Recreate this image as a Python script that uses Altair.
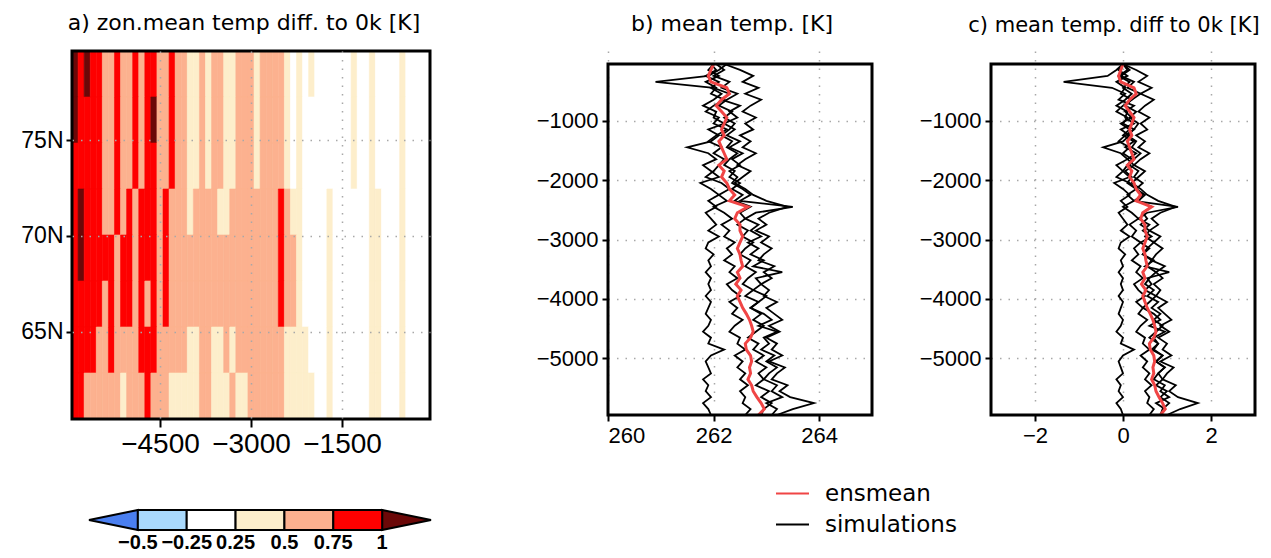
import altair as alt
import pandas as pd

# ---------------- panel a : zonal-mean temperature difference (levels) ----------------
LEVELS = [0, 1, 2, 3, 4, 5, 6]
LEVEL_COLORS = ["#4a7ff0", "#a9d9fc", "#ffffff", "#fdeecb", "#fcb18f", "#fe0000", "#6b0808"]
CB_LABELS = ["\u22120.5", "\u22120.25", "0.25", "0.5", "0.75", "1"]

A_TIME_START = -5950          # left edge of first 100-year bin
A_TIME_STEP = 100
A_LAT_EDGES = [79.65, 77.25, 74.85, 72.45, 70.05, 67.65, 65.25, 62.85, 60.45]   # top -> bottom
# one string per latitude band (top -> bottom), one character (level index) per 100-year bin
A_ROWS = [
    "6565544544" "5455445443" "3434433444" "3444432323" "2222223223" "222232222",
    "6555544544" "5456445443" "3434433444" "3444432322" "2222223223" "222232222",
    "5555544544" "5455445443" "3434433444" "3444432322" "2222223223" "222232222",
    "5655544545" "4555454443" "4444334444" "4444543322" "2232222223" "322232222",
    "5655555455" "4555454444" "4444444444" "4444544322" "2232222223" "322232222",
    "5555545455" "4545454444" "4444444444" "4444544322" "2232222223" "322232222",
    "5555445444" "4555444443" "3443343444" "4444433332" "2232222223" "322232222",
    "5544444434" "4454443333" "3443334334" "4444433333" "2232222223" "322232222",
]

# ---------------- panels b / c : time series ----------------
TIMES = list(range(-50, -6000, -100))
SIM_NAMES = ["sim1", "sim2", "sim3", "sim4", "sim5"]
SIM1 = [261.95, 262.05, 261.85, 262.1, 261.95, 262.15, 262.0, 261.8, 262.05, 262.0,
        262.2, 261.9, 262.1, 261.95, 261.5, 261.9, 262.05, 261.8, 261.95, 262.1,
        261.75, 261.95, 262.1, 261.9, 262.05, 261.85, 261.95, 262.05, 261.9, 262.1,
        261.9, 261.85, 262.0, 261.9, 261.95, 261.85, 261.95, 261.9, 261.95, 261.85,
        261.95, 261.9, 261.85, 261.95, 261.9, 261.8, 261.95, 261.9, 262.2, 261.95,
        261.85, 261.9, 261.95, 261.8, 261.9, 261.85, 261.95, 261.8, 261.9, 261.95]
SIM2 = [262.0, 261.9, 262.1, 261.85, 262.05, 261.95, 262.2, 262.0, 261.85, 262.1,
        262.0, 262.25, 262.05, 261.9, 262.15, 262.0, 262.2, 262.1, 262.0, 261.85,
        262.15, 262.3, 262.1, 262.25, 262.0, 262.2, 262.35, 262.15, 262.3, 262.2,
        262.4, 262.25, 262.35, 262.2, 262.4, 262.3, 262.45, 262.25, 262.35, 262.5,
        262.3, 262.45, 262.35, 262.55, 262.4, 262.3, 262.5, 262.45, 262.6, 262.4,
        262.55, 262.45, 262.6, 262.5, 262.65, 262.5, 262.6, 262.55, 262.7, 262.6]
SIM3 = [262.05, 262.2, 262.0, 262.3, 262.15, 262.45, 262.25, 262.1, 262.35, 262.2,
        262.4, 262.3, 262.15, 262.35, 262.25, 262.45, 262.3, 262.2, 262.4, 262.3,
        262.5, 262.35, 262.55, 262.4, 262.7, 262.5, 262.6, 262.45, 262.65, 262.55,
        262.75, 262.6, 262.5, 262.7, 262.6, 262.8, 262.65, 262.55, 262.75, 262.6,
        262.85, 262.7, 262.9, 262.75, 262.95, 262.8, 262.65, 262.85, 262.75, 262.95,
        262.8, 263.0, 262.85, 262.95, 262.8, 263.05, 262.9, 263.1, 262.95, 262.9]
SIM4 = [262.25, 262.1, 261.9, 260.9, 262.0, 262.3, 262.15, 262.5, 262.3, 262.45,
        262.2, 262.4, 262.25, 262.5, 262.3, 262.55, 262.35, 262.5, 262.3, 262.45,
        262.35, 262.55, 262.7, 262.5, 263.5, 262.8, 262.6, 262.85, 262.7, 262.9,
        262.65, 262.85, 262.7, 262.95, 262.75, 263.3, 262.8, 262.9, 262.75, 263.0,
        262.85, 262.7, 262.95, 263.1, 262.85, 263.2, 262.95, 263.05, 262.9, 263.15,
        263.0, 263.2, 263.05, 262.95, 263.2, 263.1, 263.3, 263.0, 263.2, 263.1]
SIM5 = [262.2, 262.5, 262.75, 262.55, 262.85, 262.6, 262.9, 262.7, 262.55, 262.8,
        262.6, 262.75, 262.5, 262.7, 262.55, 262.8, 262.6, 262.45, 262.7, 262.55,
        262.4, 262.6, 262.75, 263.0, 263.4, 263.05, 262.85, 263.0, 262.8, 263.05,
        262.9, 263.1, 262.95, 262.85, 263.15, 262.95, 263.1, 262.9, 263.05, 262.95,
        263.2, 263.0, 263.15, 263.3, 263.05, 263.25, 263.0, 263.2, 263.1, 263.3,
        263.05, 263.35, 263.2, 263.1, 263.4, 263.25, 263.45, 263.9, 263.5, 263.2]
ENSMEAN = [262.0, 261.95, 261.9, 261.95, 262.25, 262.3, 262.15, 262.05, 262.15, 262.25,
           262.2, 262.15, 262.2, 262.1, 262.15, 262.2, 262.25, 262.1, 262.2, 262.15,
           262.25, 262.3, 262.4, 262.3, 262.65, 262.45, 262.4, 262.5, 262.5, 262.55,
           262.5, 262.45, 262.5, 262.52, 262.55, 262.45, 262.5, 262.42, 262.52, 262.45,
           262.5, 262.55, 262.62, 262.68, 262.72, 262.75, 262.7, 262.6, 262.62, 262.7,
           262.72, 262.68, 262.7, 262.65, 262.72, 262.75, 262.82, 262.9, 262.96, 262.85]
# 0k reference value of each series (used for panel c: difference to 0k)
ZERO_K = {"sim1": 261.95, "sim2": 262.0, "sim3": 262.05, "sim4": 262.25, "sim5": 262.2, "ensmean": 262.0}

B_XDOMAIN = [260, 265]
C_XDOMAIN = [-3, 3]
T_DOMAIN = [-5950, -50]
LAT_DOMAIN = [60.45, 79.65]

# ---------------- build tables ----------------
rec = []
for r, row in enumerate(A_ROWS):
    for k, ch in enumerate(row):
        rec.append(dict(t0=A_TIME_START + k * A_TIME_STEP, t1=A_TIME_START + (k + 1) * A_TIME_STEP,
                        lat0=A_LAT_EDGES[r + 1], lat1=A_LAT_EDGES[r], level=int(ch)))
df_a = pd.DataFrame(rec)

sims = {"sim1": SIM1, "sim2": SIM2, "sim3": SIM3, "sim4": SIM4, "sim5": SIM5}
rows_s = []
for name in SIM_NAMES:
    for i, (t, v) in enumerate(zip(TIMES, sims[name])):
        rows_s.append(dict(sim=name, kind="simulations", i=i, t=t, v=v, d=round(v - ZERO_K[name], 3)))
df_sim = pd.DataFrame(rows_s)
df_ens = pd.DataFrame([dict(sim="ensmean", kind="ensmean", i=i, t=t, v=v, d=round(v - ZERO_K["ensmean"], 3))
                       for i, (t, v) in enumerate(zip(TIMES, ENSMEAN))])

FONT_AX = "Liberation Sans"
FONT_TI = "DejaVu Sans"
GRID = dict(grid=True, gridDash=[1.5, 7], gridColor="#a8a8a8", gridWidth=1.5)
TICKS = dict(domain=False, tickColor="black", tickWidth=2, labelFont=FONT_AX,
             labelColor="black", title=None)

level_scale = alt.Scale(domain=LEVELS, range=LEVEL_COLORS)

# ---------------- panel a ----------------
A_W, A_H = 358, 368
xa = alt.Scale(domain=T_DOMAIN, nice=False, zero=False)
ya = alt.Scale(domain=LAT_DOMAIN, nice=False, zero=False)
contour = alt.Chart(df_a).mark_rect(strokeWidth=0.6).encode(
    x=alt.X("t0:Q", scale=xa, axis=alt.Axis(values=[-4500, -3000, -1500], format="d", labelFontSize=28,
                                             tickSize=8, labelPadding=3, zindex=1, **GRID, **TICKS)),
    x2="t1:Q",
    y=alt.Y("lat0:Q", scale=ya, axis=alt.Axis(values=[65, 70, 75], labelExpr="datum.value + 'N'",
                                               labelFontSize=23, tickSize=6, labelPadding=3, zindex=1,
                                               **GRID, **TICKS)),
    y2="lat1:Q",
    color=alt.Color("level:O", scale=level_scale, legend=None),
    stroke=alt.Stroke("level:O", scale=level_scale, legend=None),
)
frame_a = alt.Chart(pd.DataFrame({"x0": [T_DOMAIN[0]], "x1": [T_DOMAIN[1]],
                                  "y0": [LAT_DOMAIN[0]], "y1": [LAT_DOMAIN[1]]})).mark_rect(
    fill=None, stroke="black", strokeWidth=3).encode(
    x=alt.X("x0:Q", scale=xa), x2="x1:Q", y=alt.Y("y0:Q", scale=ya), y2="y1:Q")

# colorbar (own scales placed below panel a)
cbx = alt.Scale(domain=[0, 7], range=[17, 359], nice=False, zero=False)
cby = alt.Scale(domain=[0, 1], range=[479, 459], nice=False, zero=False)
df_box = pd.DataFrame({"p0": [1, 2, 3, 4, 5], "p1": [2, 3, 4, 5, 6], "level": [1, 2, 3, 4, 5],
                       "b0": [0] * 5, "b1": [1] * 5})
cb_box = alt.Chart(df_box).mark_rect(stroke="black", strokeWidth=2).encode(
    x=alt.X("p0:Q", scale=cbx, axis=None), x2="p1:Q",
    y=alt.Y("b0:Q", scale=cby, axis=None), y2="b1:Q",
    fill=alt.Fill("level:O", scale=level_scale, legend=None))
df_tri = pd.DataFrame({"p": [0, 1, 6, 7], "lo": [0.5, 0, 0, 0.5], "hi": [0.5, 1, 1, 0.5],
                       "tri": ["l", "l", "r", "r"], "level": [0, 0, 6, 6]})
cb_tri = alt.Chart(df_tri).mark_area(stroke="black", strokeWidth=2, opacity=1).encode(
    x=alt.X("p:Q", scale=cbx, axis=None),
    y=alt.Y("lo:Q", scale=cby, axis=None), y2="hi:Q",
    detail="tri:N",
    fill=alt.Fill("level:O", scale=level_scale, legend=None))
df_lab = pd.DataFrame({"p": [1, 2, 3, 4, 5, 6], "b": [0] * 6, "lab": CB_LABELS})
cb_txt = alt.Chart(df_lab).mark_text(baseline="top", dy=3, font="Liberation Sans", fontWeight="bold",
                                     fontSize=20, color="black").encode(
    x=alt.X("p:Q", scale=cbx, axis=None), y=alt.Y("b:Q", scale=cby, axis=None), text="lab:N")

panel_a = alt.layer(
    alt.layer(contour, frame_a),
    alt.layer(cb_tri, cb_box, cb_txt),
).resolve_scale(x="independent", y="independent").properties(
    width=A_W, height=A_H,
    title=alt.Title("a) zon.mean temp diff. to 0k [K]", font=FONT_TI, fontSize=22, fontWeight="normal",
                    anchor="middle", offset=15, dx=-7, color="black"))

# ---------------- panels b and c ----------------
BC_W, BC_H = 264, 364
line_color = alt.Scale(domain=["ensmean", "simulations"], range=["#f04545", "#000000"])
ybc = alt.Scale(domain=T_DOMAIN, range=[BC_H, 13], nice=False, zero=False)
ybc_axis = alt.Axis(values=[-1000, -2000, -3000, -4000, -5000], format="d", labelFontSize=22,
                    tickSize=6, labelPadding=4, **GRID, **TICKS)


def line_panel(field, xdomain, xticks, title, tsize, dx, with_legend):
    xs = alt.Scale(domain=xdomain, nice=False, zero=False)
    xaxis = alt.Axis(values=xticks, format="d", labelFontSize=22, tickSize=6, labelPadding=4, **GRID, **TICKS)
    legend = (alt.Legend(orient="none", legendX=167, legendY=425, title=None, symbolType="stroke",
                         symbolSize=1089, symbolStrokeWidth=2, labelFont=FONT_TI, labelFontSize=23,
                         labelOffset=15, rowPadding=1, padding=0, labelColor="black")
              if with_legend else None)
    sim = alt.Chart(df_sim).mark_line(strokeWidth=1.8).encode(
        x=alt.X(f"{field}:Q", scale=xs, axis=xaxis),
        y=alt.Y("t:Q", scale=ybc, axis=ybc_axis),
        order="i:Q", detail="sim:N",
        color=alt.Color("kind:N", scale=line_color, legend=legend))
    ens = alt.Chart(df_ens).mark_line(strokeWidth=3).encode(
        x=alt.X(f"{field}:Q", scale=xs), y=alt.Y("t:Q", scale=ybc), order="i:Q",
        color=alt.Color("kind:N", scale=line_color, legend=legend))
    frame = alt.Chart(pd.DataFrame({"x0": [xdomain[0]], "x1": [xdomain[1]],
                                    "y0": [T_DOMAIN[0]], "y1": [T_DOMAIN[1]]})).mark_rect(
        fill=None, stroke="black", strokeWidth=3).encode(
        x=alt.X("x0:Q", scale=xs), x2="x1:Q", y=alt.Y("y0:Q", scale=ybc), y2="y1:Q")
    return alt.layer(sim, ens, frame).properties(
        width=BC_W, height=BC_H,
        title=alt.Title(title, font=FONT_TI, fontSize=tsize, fontWeight="normal", anchor="middle",
                        offset=15, dx=dx, color="black"))


panel_b = line_panel("v", B_XDOMAIN, [260, 262, 264], "b) mean temp. [K]", 22, -8, True)
panel_c = line_panel("d", C_XDOMAIN, [-2, 0, 2], "c) mean temp. diff to 0k [K]", 21, -9, False)


def spacer(w):
    return alt.Chart(pd.DataFrame({"s": [0]})).mark_point(opacity=0, size=0).properties(width=w, height=10)


chart = alt.hconcat(panel_a, spacer(178), panel_b, spacer(119), panel_c, spacing=0, bounds="flush").resolve_scale(
    color="independent", fill="independent", stroke="independent").properties(
    padding={"left": 12, "top": 3, "right": 0, "bottom": 0}).configure_view(stroke=None)

chart.save("out.html", embed_options={"renderer": "svg", "actions": False})
